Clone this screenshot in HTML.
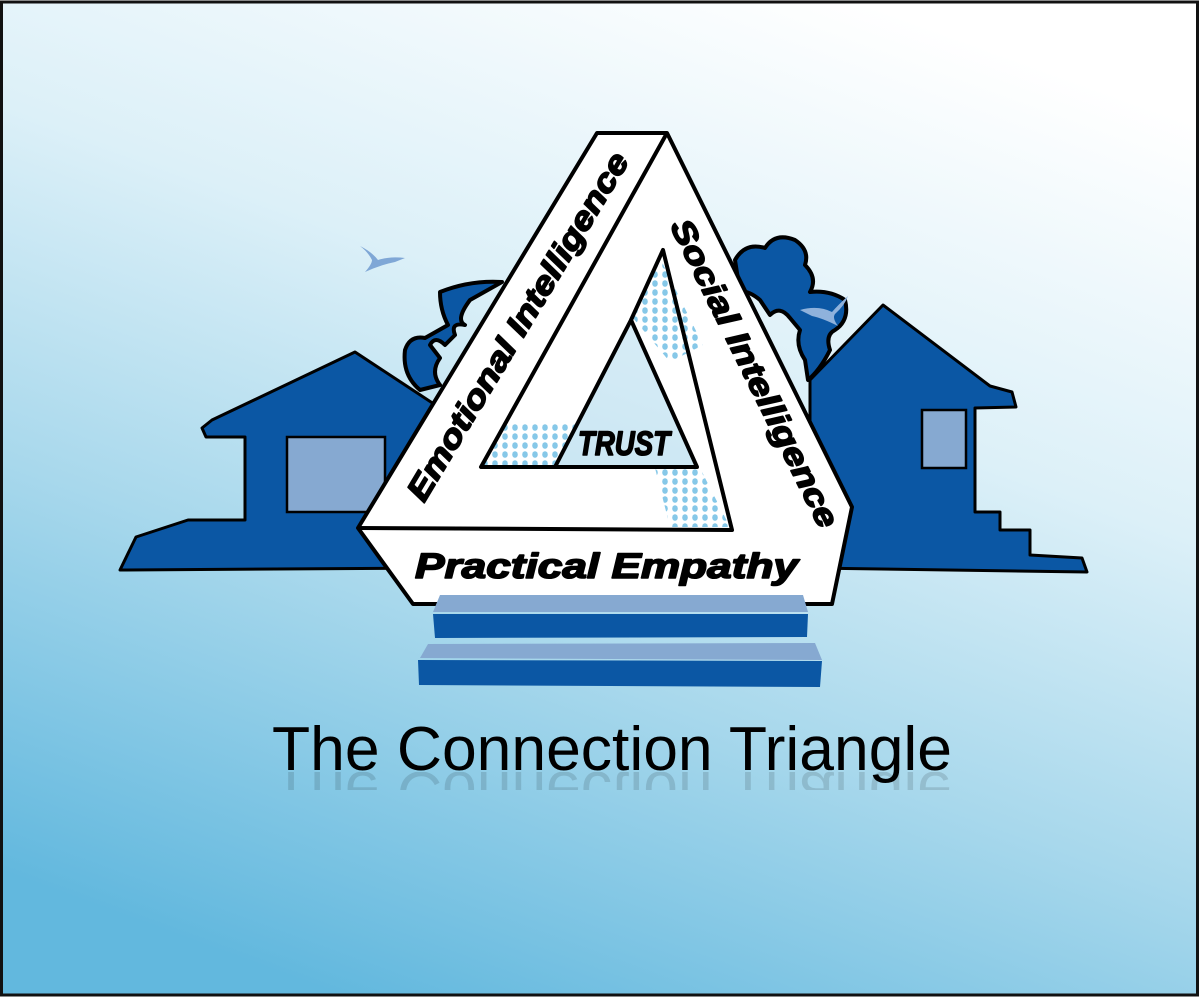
<!DOCTYPE html>
<html><head><meta charset="utf-8"><style>html,body{margin:0;padding:0;background:#fff}svg{display:block}</style></head>
<body>
<svg width="1200" height="1000" viewBox="0 0 1200 1000" xmlns="http://www.w3.org/2000/svg">
<defs>
<linearGradient id="bg" x1="0.72" y1="0" x2="0.28" y2="1">
<stop offset="0" stop-color="#ffffff"/>
<stop offset="0.35" stop-color="#dcf0f8"/>
<stop offset="0.65" stop-color="#a8d8ec"/>
<stop offset="1" stop-color="#62b8de"/>
</linearGradient>
<pattern id="dots" width="10" height="9" patternUnits="userSpaceOnUse">
<ellipse cx="5" cy="4.5" rx="2.8" ry="3.3" fill="#86c8e8"/>
</pattern>
<clipPath id="refl"><rect x="0" y="772" width="1200" height="18"/></clipPath>
</defs>
<rect x="0" y="0" width="1200" height="1000" fill="#fff"/>
<rect x="1.5" y="2" width="1196" height="993" fill="url(#bg)" stroke="#111" stroke-width="3"/>

<!-- trees -->
<g fill="#0b57a4" stroke="#000" stroke-width="4" stroke-linejoin="round">
<path d="M440,292 Q470,280 502,282 L470,300 Q455,320 465,325 Q450,322 455,335 L445,345 Q435,335 430,345 L440,358 Q430,372 440,385 L420,390 Q402,375 405,350 Q410,335 425,338 L448,325 Q440,310 440,292 Z"/>
<path d="M735,260 Q745,242 765,248 Q775,232 795,240 Q810,250 805,265 Q818,278 810,292 Q830,290 845,300 Q850,320 835,330 Q825,335 830,350 Q820,370 808,380 L805,360 Q795,345 800,330 L790,318 Q780,305 770,315 L760,300 Q748,290 740,292 Z"/>
</g>
<!-- left house -->
<path d="M120,570 L136,537 L188,520 L245,520 L245,437 L206,437 L202,428 L212,420 L355,352 L440,408 L440,568 Z" fill="#0b57a4" stroke="#000" stroke-width="3" stroke-linejoin="round"/>
<rect x="287" y="437" width="98" height="75" fill="#86a9d1" stroke="#000" stroke-width="2.5"/>
<!-- right house -->
<path d="M810,568 L810,380 L883,305 L990,386 L1012,392 L1016,407 L975,408 L975,512 L1000,512 L1000,530 L1030,530 L1030,555 L1082,558 L1087,572 Z" fill="#0b57a4" stroke="#000" stroke-width="3" stroke-linejoin="round"/>
<rect x="922" y="410" width="44" height="58" fill="#86a9d1" stroke="#000" stroke-width="2.5"/>
<!-- birds -->
<path d="M360,246 Q372,252 378,260 Q390,256 405,258 L395,262 Q380,265 365,272 Q372,264 372,260 Q368,252 360,246 Z" fill="#7fa7d6"/>
<path d="M848,296 Q838,305 832,312 Q818,305 800,310 L812,316 Q822,318 838,326 Q832,318 835,314 Q845,305 848,296 Z" fill="#8fb2dc"/>

<!-- triangle -->
<path fill-rule="evenodd" d="M597,133 L667,133 L852,507 L832,604 L413,604 L358,528 Z M631,320 L555,467 L697,467 Z" fill="#fff"/>
<path d="M631,320 L555,467 L697,467 Z" fill="#cfe8f4" opacity="0.5"/>
<polygon points="505,422 577,422 555,467 481,467" fill="url(#dots)"/>
<polygon points="660,258 703,345 670,362 633,318" fill="url(#dots)"/>
<polygon points="655,468 700,468 730,527 670,527" fill="url(#dots)"/>
<g fill="none" stroke="#000" stroke-width="4" stroke-linejoin="round">
<path d="M597,133 L667,133 L852,507 L832,604 L413,604 L358,528 Z"/>
<path d="M667,133 L481,467 L697,467 L631,320 L555,467"/>
<path d="M631,320 L663,250 L732,530 L358,528"/>
</g>

<g font-family="'Liberation Sans', sans-serif" font-weight="bold" font-style="italic" fill="#000" stroke="#000" stroke-width="1.6" stroke-linejoin="round">
<text transform="translate(527,332) rotate(-59)" font-size="32" text-anchor="middle" textLength="400" lengthAdjust="spacingAndGlyphs">Emotional Intelligence</text>
<text transform="translate(745,378) rotate(63.7)" font-size="32" text-anchor="middle" textLength="340" lengthAdjust="spacingAndGlyphs">Social Intelligence</text>
<text x="415" y="578" font-size="35" textLength="383" lengthAdjust="spacingAndGlyphs">Practical Empathy</text>
<text x="578" y="455" font-size="34" textLength="92" lengthAdjust="spacingAndGlyphs">TRUST</text>
</g>

<!-- steps -->
<polygon points="440,595 803,595 808,612 433,612" fill="#86a9d1"/>
<polygon points="433,614 808,614 807,637 435,638" fill="#0b57a4"/>
<polygon points="428,644 815,643 822,660 420,658" fill="#86a9d1"/>
<polygon points="418,660 822,661 820,687 419,685" fill="#0b57a4"/>

<text x="272" y="770" font-family="'Liberation Sans', sans-serif" font-size="62" fill="#000" textLength="680" lengthAdjust="spacingAndGlyphs">The Connection Triangle</text>
<g clip-path="url(#refl)">
<text x="272" y="772" transform="translate(0,1544) scale(1,-1)" font-family="'Liberation Sans', sans-serif" font-size="62" fill="#000" opacity="0.12" textLength="680" lengthAdjust="spacingAndGlyphs">The Connection Triangle</text>
</g>
</svg>
</body></html>
